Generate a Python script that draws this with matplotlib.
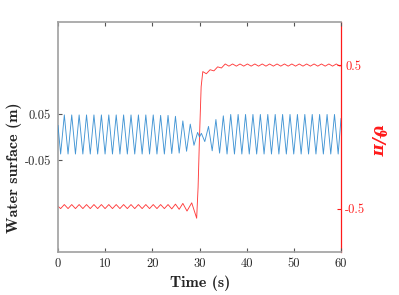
"""Water surface elevation and phase angle over time."""

import matplotlib

matplotlib.use("Agg")
import matplotlib.pyplot as plt

# Water surface (m): extrema
surf_t = [
    0.00, 0.56, 1.34, 2.13, 2.91, 3.70, 4.48, 5.27, 6.05, 6.84,
    7.62, 8.41, 9.20, 9.98, 10.77, 11.55, 12.34, 13.13, 13.91, 14.70,
    15.48, 16.27, 17.05, 17.84, 18.62, 19.41, 20.19, 20.98, 21.76, 22.55,
    23.33, 24.12, 24.90, 25.69, 26.47, 27.26, 28.04, 28.83, 29.60, 30.00,
    30.40, 31.12, 31.91, 32.69, 33.48, 34.26, 35.05, 35.84, 36.62, 37.41,
    38.19, 38.98, 39.76, 40.55, 41.33, 42.12, 42.90, 43.69, 44.48, 45.26,
    46.05, 46.83, 47.62, 48.41, 49.19, 49.98, 50.76, 51.55, 52.33, 53.12,
    53.90, 54.69, 55.47, 56.26, 57.05, 57.83, 58.62, 59.40, 60.00,
]
surf = [
    0.025, -0.037, 0.048, -0.037, 0.048, -0.037, 0.048, -0.037, 0.048, -0.037,
    0.048, -0.037, 0.048, -0.037, 0.048, -0.037, 0.048, -0.037, 0.048, -0.037,
    0.048, -0.037, 0.048, -0.037, 0.048, -0.037, 0.048, -0.037, 0.047, -0.037,
    0.047, -0.036, 0.045, -0.035, 0.035, -0.031, 0.028, -0.018, 0.010, 0.000,
    0.008, -0.010, 0.023, -0.030, 0.038, -0.035, 0.046, -0.037, 0.049, -0.037,
    0.049, -0.037, 0.049, -0.037, 0.049, -0.037, 0.049, -0.037, 0.049, -0.037,
    0.049, -0.037, 0.049, -0.037, 0.049, -0.037, 0.049, -0.037, 0.049, -0.037,
    0.049, -0.037, 0.049, -0.037, 0.049, -0.037, 0.049, -0.037, 0.040,
]

# theta / pi
theta_t = [
    0.00, 0.56, 1.34, 2.13, 2.91, 3.70, 4.48, 5.27, 6.05, 6.84,
    7.62, 8.41, 9.20, 9.98, 10.77, 11.55, 12.34, 13.13, 13.91, 14.70,
    15.48, 16.27, 17.05, 17.84, 18.62, 19.41, 20.19, 20.98, 21.76, 22.55,
    23.33, 24.12, 24.90, 25.69, 26.47, 27.35, 28.35, 29.40, 29.70, 30.00,
    30.35, 30.70, 31.45, 32.25, 33.05, 33.85, 34.65, 35.45, 36.24, 37.02,
    37.81, 38.59, 39.38, 40.16, 40.95, 41.73, 42.52, 43.30, 44.09, 44.87,
    45.66, 46.44, 47.23, 48.01, 48.80, 49.58, 50.37, 51.15, 51.94, 52.72,
    53.51, 54.29, 55.08, 55.86, 56.65, 57.43, 58.22, 59.00, 59.79, 60.00,
]
theta = [
    -0.482, -0.498, -0.470, -0.498, -0.470, -0.498, -0.470, -0.498, -0.470, -0.498,
    -0.470, -0.498, -0.470, -0.498, -0.470, -0.498, -0.470, -0.498, -0.470, -0.498,
    -0.470, -0.498, -0.470, -0.498, -0.470, -0.498, -0.470, -0.498, -0.470, -0.498,
    -0.470, -0.500, -0.467, -0.503, -0.462, -0.515, -0.458, -0.565, -0.350, 0.000,
    0.350, 0.455, 0.440, 0.468, 0.460, 0.488, 0.480, 0.508, 0.493, 0.508,
    0.493, 0.508, 0.493, 0.508, 0.493, 0.508, 0.493, 0.508, 0.493, 0.508,
    0.493, 0.508, 0.493, 0.508, 0.493, 0.508, 0.493, 0.508, 0.493, 0.508,
    0.493, 0.508, 0.493, 0.508, 0.493, 0.508, 0.493, 0.508, 0.493, 0.498,
]

x_ticks = [0, 10, 20, 30, 40, 50, 60]
surf_ticks = [-0.05, 0.05]
surf_tick_labels = ["-0.05", "0.05"]
theta_ticks = [-0.5, 0.5]
theta_tick_labels = ["-0.5", "0.5"]

gray = "#a0a0a0"
red = "#ff1a1a"
blue = "#2f8ad0"

fig = plt.figure(figsize=(3.99, 2.95), dpi=100)
ax = fig.add_axes([58 / 399, 43 / 295, 283 / 399, 230 / 295])
ax2 = ax.twinx()

ax.plot(surf_t, surf, color=blue, lw=0.65, alpha=0.9, zorder=3)
ax2.plot(theta_t, theta, color=red, lw=0.65, alpha=0.85)

ax.set_xlim(0, 60)
ax.set_ylim(-0.25, 0.25)
ax2.set_ylim(-0.8, 0.8)

ax.set_xticks(x_ticks)
ax.set_xticklabels([str(v) for v in x_ticks], fontfamily="cmr10", fontsize=9)
ax.set_yticks(surf_ticks)
ax.set_yticklabels(surf_tick_labels, fontfamily="cmr10", fontsize=9)
ax2.set_yticks(theta_ticks)
ax2.set_yticklabels(theta_tick_labels, fontfamily="cmr10", fontsize=9,
                    color=red)

ax.tick_params(axis="x", direction="in", top=True, length=3, width=0.8,
               color="#555555", pad=4, labelcolor="#262626")
ax.tick_params(axis="y", direction="in", length=3, width=0.8,
               color="#555555", pad=5, labelcolor="#262626")
ax2.tick_params(axis="y", direction="in", length=3, width=0.8,
                color=red, pad=3)

for name in ["left", "bottom", "top"]:
    ax.spines[name].set_color(gray)
    ax.spines[name].set_linewidth(1.2)
    ax2.spines[name].set_visible(False)
ax.spines["right"].set_visible(False)
ax2.spines["right"].set_color(red)
ax2.spines["right"].set_linewidth(0.9)

# ax2 draws above ax; keep the blue line on top
ax.set_zorder(ax2.get_zorder() + 1)
ax.patch.set_visible(False)

fig.text(200 / 399, 1 - 283 / 295, "Time (s)", fontfamily="cmb10",
         fontsize=11.5, ha="center", va="center", color="#262626")
fig.text(14 / 399, 1 - 168 / 295, "Water surface (m)", fontfamily="cmb10",
         fontsize=11.5, rotation=90, ha="center", va="center",
         color="#262626")
fig.text(377 / 399, 1 - 140 / 295, "ϑ/π", fontfamily="DejaVu Serif",
         fontweight="bold", fontstyle="italic", fontsize=12, rotation=-90,
         ha="center", va="center", color=red)

fig.savefig("out.png", dpi=100)
